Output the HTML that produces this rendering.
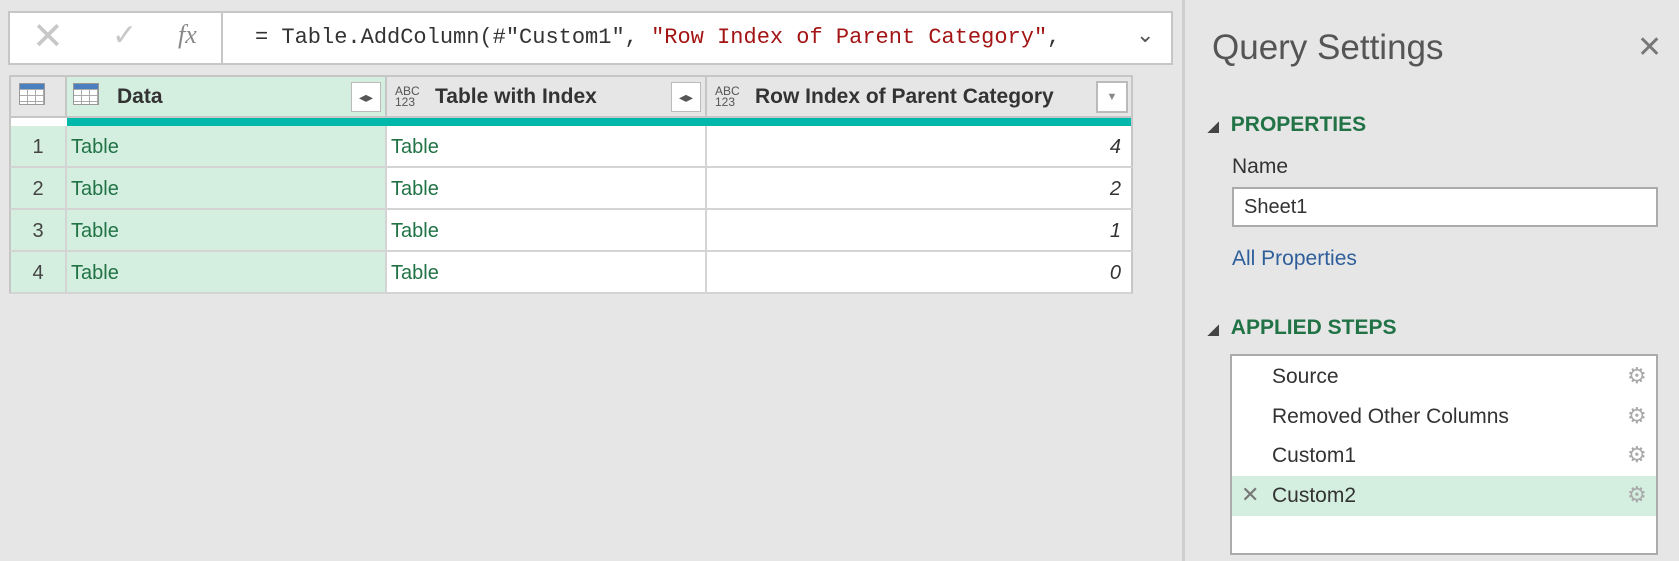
<!DOCTYPE html>
<html><head><meta charset="utf-8"><style>
*{box-sizing:border-box;margin:0;padding:0}
body{width:1679px;height:561px;background:#e6e6e6;font-family:"Liberation Sans",sans-serif;position:relative;overflow:hidden;color:#333}
.abs{position:absolute}
.cell{position:absolute;height:42px;line-height:42px;font-size:20px;border-right:2px solid #d4d4d4;border-bottom:2px solid #d4d4d4}
.g{color:#217346}
.step{position:absolute;left:1272px;font-size:21px;color:#333}
.gear{position:absolute;left:1627px;font-size:22px;color:#aaa}
.tbl{position:absolute;width:26px;height:22px;border:1px solid #999;background:
linear-gradient(#4a7fc0 0 5px,transparent 5px),
repeating-linear-gradient(90deg,transparent 0 7px,#aaa 7px 8px),
repeating-linear-gradient(transparent 0 5px,#aaa 5px 6px);background-color:#fff}
</style></head><body>
<div class="abs" style="left:8px;top:11px;width:220px;height:54px;background:#fff;border:2px solid #c6c6c6"></div>
<div class="abs" style="left:32px;top:14px;font-size:38px;color:#c8c8c8">✕</div>
<div class="abs" style="left:112px;top:18px;font-size:30px;color:#c8c8c8">✓</div>
<div class="abs" style="left:178px;top:20px;font-size:26px;color:#888;font-family:'Liberation Serif',serif;font-style:italic">fx</div>
<div class="abs" style="left:221px;top:11px;width:952px;height:54px;background:#fff;border:2px solid #c6c6c6;font-family:'Liberation Mono',monospace;font-size:22px;line-height:50px;padding-left:32px;white-space:nowrap;overflow:hidden">= Table.AddColumn(#"Custom1", <span style="color:#a31515">"Row Index of Parent Category"</span>,</div>
<div class="abs" style="left:1136px;top:22px;font-size:22px;color:#555">⌄</div>

<div class="abs" style="left:9px;top:75px;width:1124px;height:218px;background:#fff;border:2px solid #c6c6c6"></div>
<div class="abs" style="left:11px;top:77px;width:56px;height:41px;background:#e6e6e6;border-right:2px solid #c6c6c6;border-bottom:2px solid #c6c6c6"></div>
<div class="tbl" style="left:19px;top:83px"></div>
<div class="abs" style="left:67px;top:77px;width:320px;height:41px;background:#d4efe0;border-right:2px solid #c6c6c6;border-bottom:2px solid #c6c6c6;font-weight:bold;font-size:21px;line-height:39px;padding-left:50px">Data</div>
<div class="tbl" style="left:73px;top:83px"></div>
<div class="abs" style="left:387px;top:77px;width:320px;height:41px;background:#e6e6e6;border-right:2px solid #c6c6c6;border-bottom:2px solid #c6c6c6;font-weight:bold;font-size:21px;line-height:39px;padding-left:48px">Table with Index</div>
<div class="abs" style="left:707px;top:77px;width:424px;height:41px;background:#e6e6e6;border-bottom:2px solid #c6c6c6;font-weight:bold;font-size:21px;line-height:39px;padding-left:48px">Row Index of Parent Category</div>
<div class="abs" style="left:395px;top:86px;font-size:12px;line-height:11px;color:#555">ABC<br>123</div>
<div class="abs" style="left:715px;top:86px;font-size:12px;line-height:11px;color:#555">ABC<br>123</div>
<div class="abs" style="left:351px;top:82px;width:30px;height:30px;background:#fff;border:1px solid #bbb;font-size:14px;text-align:center;line-height:28px;color:#555">◂▸</div>
<div class="abs" style="left:671px;top:82px;width:30px;height:30px;background:#fff;border:1px solid #bbb;font-size:14px;text-align:center;line-height:28px;color:#555">◂▸</div>
<div class="abs" style="left:1096px;top:81px;width:32px;height:32px;background:#fff;border:2px solid #bbb;font-size:11px;text-align:center;line-height:28px;color:#888">▼</div>
<div class="abs" style="left:67px;top:118px;width:1064px;height:8px;background:#01b8aa"></div>

<div id="rows"></div>

<div class="abs" style="left:1182px;top:0;width:3px;height:561px;background:#cfcfcf"></div>
<div class="abs" style="left:1212px;top:28px;font-size:35px;color:#555;font-weight:300">Query Settings</div>
<div class="abs" style="left:1637px;top:30px;font-size:30px;color:#777">✕</div>
<div class="abs" style="left:1208px;top:113px;font-size:21px;font-weight:bold;color:#217346"><span style="color:#444;font-size:14px;margin-right:12px">◢</span>PROPERTIES</div>
<div class="abs" style="left:1232px;top:155px;font-size:21px">Name</div>
<div class="abs" style="left:1232px;top:187px;width:426px;height:40px;background:#fff;border:2px solid #ababab;font-size:20px;line-height:36px;padding-left:10px">Sheet1</div>
<div class="abs" style="left:1232px;top:247px;font-size:21px;color:#2f5f9a">All Properties</div>
<div class="abs" style="left:1208px;top:316px;font-size:21px;font-weight:bold;color:#217346"><span style="color:#444;font-size:14px;margin-right:12px">◢</span>APPLIED STEPS</div>
<div class="abs" style="left:1230px;top:354px;width:428px;height:201px;background:#fff;border:2px solid #ababab"></div>
<div class="abs" style="left:1232px;top:476px;width:424px;height:40px;background:#d4efe0"></div>
<div class="step" style="top:365px">Source</div>
<div class="step" style="top:405px">Removed Other Columns</div>
<div class="step" style="top:444px">Custom1</div>
<div class="step" style="top:484px">Custom2</div>
<div class="abs" style="left:1241px;top:482px;font-size:22px;color:#777">✕</div>
<div class="gear" style="top:363px">⚙</div>
<div class="gear" style="top:403px">⚙</div>
<div class="gear" style="top:442px">⚙</div>
<div class="gear" style="top:482px">⚙</div>

<script>
const rowNums=[1,2,3,4];
const dataVals=["Table","Table","Table","Table"];
const idxVals=["Table","Table","Table","Table"];
const parentIdx=[4,2,1,0];
const c=document.getElementById('rows');
rowNums.forEach((n,i)=>{
 const top=126+i*42;
 const a=document.createElement('div');a.className='cell';
 
 
 a.style.cssText=`left:9px;top:${top}px;width:58px;background:#d4efe0;text-align:center;color:#444;border-left:2px solid #c6c6c6`;a.textContent=n;c.appendChild(a);
 const b=document.createElement('div');b.className='cell g';
 
 
 b.style.cssText=`left:67px;top:${top}px;width:320px;background:#d4efe0;padding-left:4px`;b.textContent=dataVals[i];c.appendChild(b);
 const d=document.createElement('div');d.className='cell g';
 
 
 d.style.cssText=`left:387px;top:${top}px;width:320px;background:#fff;padding-left:4px`;d.textContent=idxVals[i];c.appendChild(d);
 const e=document.createElement('div');e.className='cell';
 
 
 e.style.cssText=`left:707px;top:${top}px;width:426px;background:#fff;text-align:right;padding-right:10px;font-style:italic;border-right:2px solid #c6c6c6`;e.textContent=parentIdx[i];c.appendChild(e);
});
</script>
</body></html>
